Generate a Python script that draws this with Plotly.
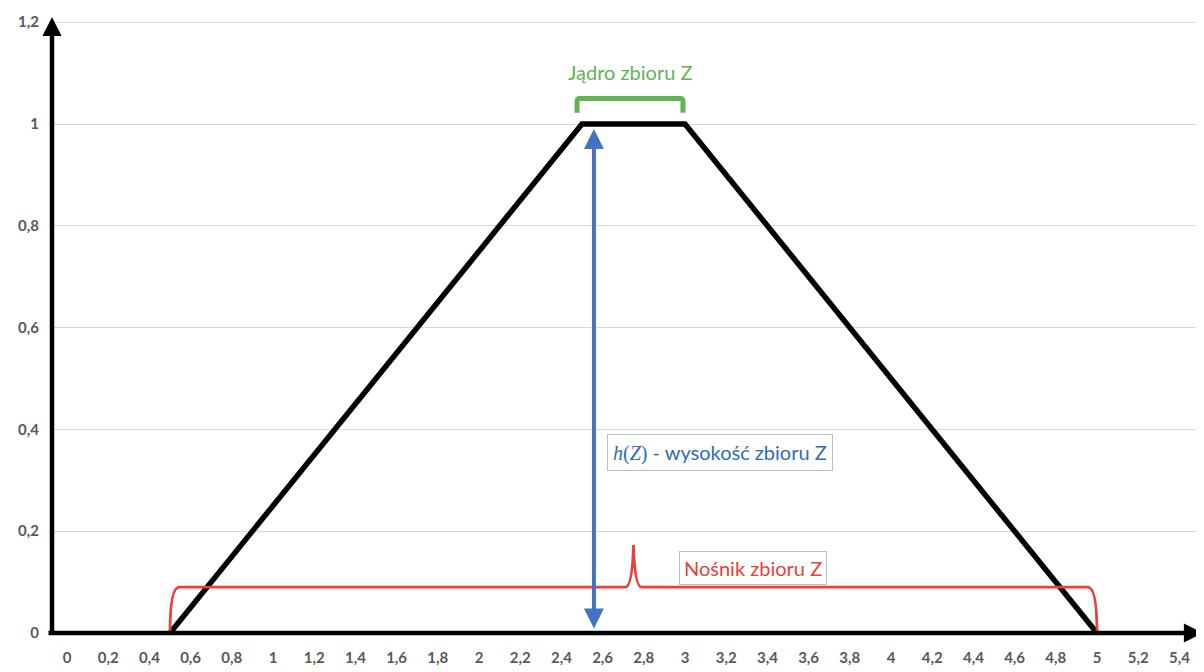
import plotly.graph_objects as go

# ---- data ----
x_vals = [0.5, 2.5, 3.0, 5.0]
mu_vals = [0.0, 1.0, 1.0, 0.0]

support_start, support_end = 0.5, 5.0
core_start, core_end = 2.5, 3.0
height_h = 1.0

x_ticks = [round(0.2 * i, 1) for i in range(0, 28)]
y_ticks = [0, 0.2, 0.4, 0.6, 0.8, 1.0, 1.2]

label_core = "Jądro zbioru Z"
label_height = "<span style=\"font-family:'Liberation Serif'\"><i>h</i>(<i>Z</i>)</span> - wysokość zbioru Z"
label_support = "Nośnik zbioru Z"

# ---- style ----
BLACK = "#000000"
RED = "#E8403A"
GREEN = "#62B352"
BLUE = "#4472C4"
BLUE_TXT = "#2E6DB4"
GRAY_TXT = "#595959"
FONT = "Lato"

OFF = 8  # page offset of the figure in the browser
W, H = 1204 - OFF, 672 - OFF
ML, MR, MT, MB = 50 - OFF, 0, 14 - OFF, 39
plot_w = W - ML - MR
plot_h = H - MT - MB
px_per_x = 206.0
px_per_y = 509.0
x0_px = 67.0 - OFF  # figure pixel of x=0
x_range = [(ML - x0_px) / px_per_x, (W - MR - x0_px) / px_per_x]
y_range = [0, plot_h / px_per_y]

fig = go.Figure()
fig.add_trace(go.Scatter(x=x_vals, y=mu_vals, mode="lines",
                         line=dict(color=BLACK, width=5.5),
                         hoverinfo="skip", showlegend=False))

shapes = []
# red brace (support)
by = 0.09
mid = (support_start + support_end) / 2
peak = 0.173
red_path = (f"M {support_start},0 Q {support_start},{by} {support_start+0.045},{by} "
            f"L {mid-0.04},{by} Q {mid-0.006},{by} {mid},{peak} "
            f"Q {mid+0.006},{by} {mid+0.04},{by} "
            f"L {support_end-0.045},{by} Q {support_end},{by} {support_end},0")
shapes.append(dict(type="path", path=red_path, xref="x", yref="y",
                   line=dict(color=RED, width=2.8)))
# green brace (core)
g0, g1 = core_start - 0.024, core_end - 0.01
gt, gb = 1.05, 1.022
green_path = (f"M {g0},{gb} L {g0},{gt-0.006} Q {g0},{gt} {g0+0.012},{gt} "
              f"L {g1-0.012},{gt} Q {g1},{gt} {g1},{gt-0.006} L {g1},{gb}")
shapes.append(dict(type="path", path=green_path, xref="x", yref="y",
                   line=dict(color=GREEN, width=5)))

annotations = []
# x-axis arrow
annotations.append(dict(x=1.0, y=0, xref="paper", yref="y", ax=-(W - MR - (47 - OFF)), ay=0,
                        axref="pixel", ayref="pixel", text="", showarrow=True,
                        arrowhead=2, arrowsize=0.85, arrowwidth=4.5, arrowcolor=BLACK,
                        standoff=0))
# y-axis arrow
tip_fig = 17 - OFF
annotations.append(dict(x=(52 - OFF - ML) / plot_w, y=((H - MB) - tip_fig) / plot_h,
                        xref="paper", yref="paper", ax=0, ay=(H - MB) - tip_fig + 2,
                        text="", showarrow=True, arrowhead=2, arrowsize=0.85,
                        arrowwidth=4.5, arrowcolor=BLACK, standoff=0))
# blue height arrow
hx = 2.558
annotations.append(dict(x=hx, y=height_h - 0.01, xref="x", yref="y",
                        ax=hx, ay=0.006, axref="x", ayref="y", text="",
                        showarrow=True, arrowhead=2, startarrowhead=2,
                        arrowside="end+start", arrowsize=1, startarrowsize=1,
                        arrowwidth=4, arrowcolor=BLUE, standoff=0, startstandoff=0))
# texts
annotations.append(dict(x=(core_start + core_end) / 2 - 0.015, y=1.102, xref="x", yref="y",
                        text=label_core, showarrow=False,
                        font=dict(family=FONT, size=20, color=GREEN)))
annotations.append(dict(x=3.17, y=0.354, xref="x", yref="y", text=label_height,
                        showarrow=False, bordercolor="#bfbfbf", borderwidth=1,
                        borderpad=5, bgcolor="white",
                        font=dict(family=FONT, size=20, color=BLUE_TXT)))
annotations.append(dict(x=3.33, y=0.128, xref="x", yref="y", text=label_support,
                        showarrow=False, bordercolor="#bfbfbf", borderwidth=1,
                        borderpad=4, bgcolor="white",
                        font=dict(family=FONT, size=20, color=RED)))

fig.update_layout(
    width=W, height=H,
    margin=dict(l=ML, r=MR, t=MT, b=MB),
    paper_bgcolor="white", plot_bgcolor="white",
    separators=", ",
    showlegend=False,
    shapes=shapes,
    annotations=annotations,
    xaxis=dict(range=x_range, tickmode="array", tickvals=x_ticks,
               ticktext=[f"{v:g}".replace(".", ",") for v in x_ticks],
               showgrid=False, zeroline=False, showline=False,
               ticks="", ticklabelstandoff=14,
               tickfont=dict(family=FONT, size=15, color=GRAY_TXT, weight="bold")),
    yaxis=dict(range=y_range, tickmode="array", tickvals=y_ticks,
               ticktext=[f"{v:g}".replace(".", ",") for v in y_ticks],
               showgrid=True, gridcolor="#d9d9d9", gridwidth=1,
               zeroline=False, showline=False, ticks="", ticklabelstandoff=10,
               tickfont=dict(family=FONT, size=15, color=GRAY_TXT, weight="bold")),
)

fig.write_html("out.html")
